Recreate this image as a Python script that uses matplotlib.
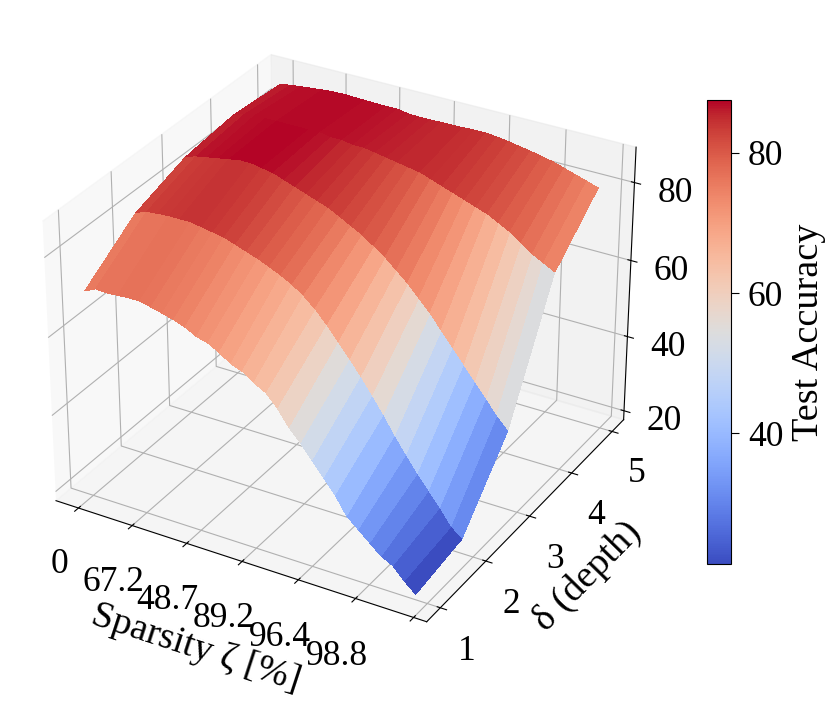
import numpy as np
import matplotlib.pyplot as plt
from matplotlib import cm

plt.rcParams['font.family'] = ['Liberation Serif', 'DejaVu Serif']
plt.rcParams['font.size'] = 25.5

# sparsity steps (index) and network depth
sparsity_idx = np.arange(30)
depths = [1, 2, 3, 4, 5]
xtick_pos = [0, 5, 10, 15, 20, 25, 30]
xtick_labels = ['0', '67.2', '48.7', '89.2', '96.4', '98.8', '']
zticks = [20, 40, 60, 80]
cbar_ticks = [40, 60, 80]

# test accuracy per depth, along sparsity
acc_d1 = [70.5, 71.8, 71.6, 71.8, 72, 72, 71.3, 70.6, 69.8, 68.8, 67.3, 66.5, 65, 63, 62,
          60, 58.5, 55.5, 51.5, 48.5, 45, 41.5, 38, 33.5, 31, 28.5, 26, 24.5, 21.5, 19]
acc_d2 = [80, 81, 81.3, 81.5, 81.5, 81.5, 81, 80.5, 80, 79, 78, 77, 75.8, 74.5, 73,
          71, 68.5, 65.5, 62, 58.5, 55, 51, 47, 42.5, 38.5, 34.5, 31, 27.5, 23.5, 21.3]
acc_d3 = [84.6, 85.5, 86, 86.5, 87, 87.5, 87.5, 87, 86.5, 85.5, 84.5, 83.5, 82.5, 81.5, 80,
          78.5, 77, 75, 73, 70.5, 68, 65, 62, 58.5, 55, 51.5, 48, 44.5, 41, 38]
acc_d4 = [86.2, 87, 87.5, 87.5, 87.5, 87.5, 87.5, 87.5, 87.5, 87, 87, 86.5, 86.5, 86, 85.5,
          85, 84.5, 84, 83, 82, 81, 80, 79, 78, 76.5, 75, 73, 71, 69.5, 68]
acc_d5 = [85.2, 85.7, 86, 86.3, 86.6, 86.8, 86.9, 86.8, 86.7, 86.6, 86.6, 86.6, 86.1, 86, 86,
          86.1, 86.1, 86.2, 86.3, 86.3, 86, 85.6, 85.1, 84.6, 84, 83.4, 82.5, 81.6, 80.7, 79.8]

X, Y = np.meshgrid(sparsity_idx, depths)
Z = np.array([acc_d1, acc_d2, acc_d3, acc_d4, acc_d5])

fig = plt.figure(figsize=(8.31, 7.02), dpi=100)
ax = fig.add_axes([0.002, 0.055, 0.805, 0.94], projection='3d')

surf = ax.plot_surface(X, Y, Z, cmap=cm.coolwarm, linewidth=0, antialiased=False)

ax.set_xticks(xtick_pos)
ax.set_xticklabels(xtick_labels)
ax.set_yticks(depths)
ax.set_zticks(zticks)
ax.tick_params(axis='x', pad=13)
ax.tick_params(axis='y', pad=9)
ax.tick_params(axis='z', pad=10)
ax.set_xlabel('Sparsity ζ [%]', fontsize=27.5, labelpad=24)
ax.set_ylabel('δ (depth)', fontsize=27.5, labelpad=18)

cax = fig.add_axes([0.851, 0.196, 0.029, 0.661])
cb = fig.colorbar(surf, cax=cax, ticks=cbar_ticks)
cb.ax.tick_params(length=6, pad=6)
cb.set_label('Test Accuracy', fontsize=27.5, labelpad=6)

fig.savefig('out.png', dpi=100)
